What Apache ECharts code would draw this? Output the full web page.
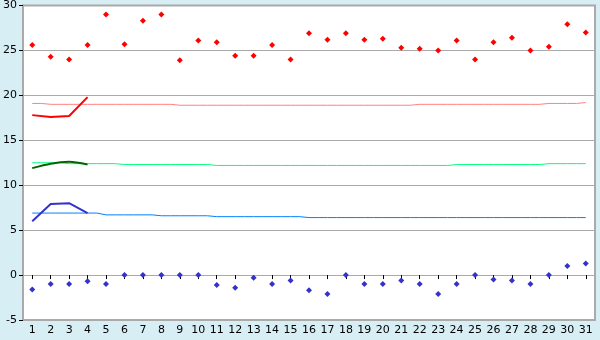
<!DOCTYPE html>
<html>
<head>
<meta charset="utf-8">
<script src="https://cdn.jsdelivr.net/npm/echarts@6/dist/echarts.min.js"></script>
<style>
  html, body { margin: 0; padding: 0; background: #d8eef5; }
  #chart { width: 600px; height: 340px; }
</style>
</head>
<body>
<div id="chart"></div>
<script>
var days = [];
for (var d = 1; d <= 31; d++) days.push(String(d));

// daily observed extremes
var maxTemp = [25.6, 24.3, 24.0, 25.6, 29.0, 25.7, 28.3, 29.0, 23.9, 26.1,
               25.9, 24.4, 24.4, 25.6, 24.0, 26.9, 26.2, 26.9, 26.2, 26.3,
               25.3, 25.2, 25.0, 26.1, 24.0, 25.9, 26.4, 25.0, 25.4, 27.9, 27.0];
var minTemp = [-1.6, -1.0, -1.0, -0.7, -1.0, 0.0, 0.0, 0.0, 0.0, 0.0,
               -1.1, -1.4, -0.3, -1.0, -0.6, -1.7, -2.1, 0.0, -1.0, -1.0,
               -0.6, -1.0, -2.1, -1.0, 0.0, -0.5, -0.6, -1.0, 0.0, 1.0, 1.3];

// normals
var normHigh = [19.1, 19.0, 19.0, 19.0, 19.0, 19.0, 19.0, 19.0, 18.9, 18.9,
                18.9, 18.9, 18.9, 18.9, 18.9, 18.9, 18.9, 18.9, 18.9, 18.9,
                18.9, 19.0, 19.0, 19.0, 19.0, 19.0, 19.0, 19.0, 19.1, 19.1, 19.2];
var normMean = [12.5, 12.5, 12.4, 12.4, 12.4, 12.3, 12.3, 12.3, 12.3, 12.3,
                12.2, 12.2, 12.2, 12.2, 12.2, 12.2, 12.2, 12.2, 12.2, 12.2,
                12.2, 12.2, 12.2, 12.3, 12.3, 12.3, 12.3, 12.3, 12.4, 12.4, 12.4];
var normLow = [6.9, 6.9, 6.9, 6.9, 6.7, 6.7, 6.7, 6.6, 6.6, 6.6,
               6.5, 6.5, 6.5, 6.5, 6.5, 6.4, 6.4, 6.4, 6.4, 6.4,
               6.4, 6.4, 6.4, 6.4, 6.4, 6.4, 6.4, 6.4, 6.4, 6.4, 6.4];

// running values, first days only
var curHigh = [17.8, 17.6, 17.7, 19.8];
var curMean = [11.9, 12.4, 12.6, 12.3];
var curLow = [6.0, 7.9, 8.0, 6.9];

var yTicks = { min: -5, max: 30, step: 5 };

var chart = echarts.init(document.getElementById('chart'));

function normLine(data, color) {
    return {
        type: 'line', data: data, step: 'middle', symbol: 'none',
        lineStyle: { color: color, width: 1 }, z: 2, silent: true
    };
}
function curLine(data, color, smooth) {
    return {
        type: 'line', data: data, smooth: smooth, symbol: 'none',
        lineStyle: { color: color, width: 2 }, z: 3, silent: true
    };
}
function dots(data, color) {
    return {
        type: 'line', data: data, symbol: 'diamond', symbolSize: 6,
        lineStyle: { width: 0, opacity: 0 },
        itemStyle: { color: color }, z: 4, silent: true
    };
}

chart.setOption({
    animation: false,
    backgroundColor: '#d8eef5',
    textStyle: { fontFamily: 'DejaVu Sans' },
    grid: {
        left: 20, right: 5, top: 5, bottom: 20,
        show: true, backgroundColor: '#ffffff',
        borderColor: '#aaaaaa', borderWidth: 2
    },
    xAxis: {
        type: 'category', data: days, boundaryGap: true,
        axisLine: { show: false },
        axisTick: { show: true, alignWithLabel: true, length: 4, lineStyle: { color: '#000' } },
        axisLabel: { color: '#000', fontSize: 11, margin: 5, interval: 0 },
        splitLine: { show: false }
    },
    yAxis: {
        type: 'value', min: yTicks.min, max: yTicks.max, interval: yTicks.step,
        axisLine: { show: true, lineStyle: { color: '#aaaaaa', width: 2 } },
        axisTick: { show: true, length: 4, lineStyle: { color: '#000' } },
        axisLabel: { color: '#000', fontSize: 11, margin: 6, padding: [3, 0, 0, 0] },
        splitLine: { show: true, lineStyle: { color: '#aaaaaa', width: 1 } }
    },
    series: [
        normLine(normHigh, '#ff8080'),
        normLine(normMean, '#00ff80'),
        normLine(normLow, '#0080ff'),
        curLine(curHigh, '#ff0000', false),
        curLine(curMean, '#006600', 0.3),
        curLine(curLow, '#3333cc', false),
        dots(maxTemp, '#ff0000'),
        dots(minTemp, '#3333cc')
    ]
});
</script>
</body>
</html>
